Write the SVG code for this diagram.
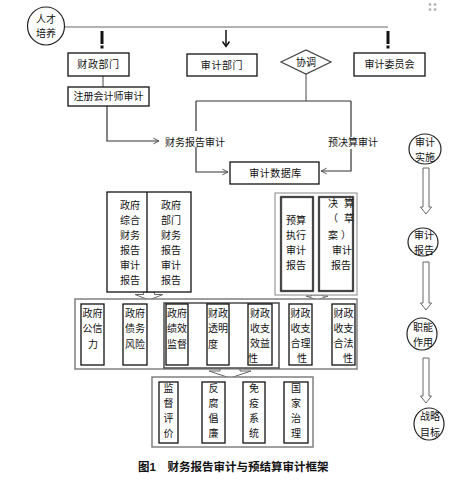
<svg xmlns="http://www.w3.org/2000/svg" width="455" height="494" viewBox="0 0 455 494">
<style>
text{font-family:"Liberation Sans","Noto Sans CJK SC",sans-serif;font-size:10px;fill:#111;text-anchor:middle;dominant-baseline:central}
.box{fill:#fff;stroke:#111;stroke-width:1.3}
.gbox{fill:#fff;stroke:#808080;stroke-width:1.5}
.conn{fill:none;stroke:#666;stroke-width:1.2}
.dark{fill:none;stroke:#333;stroke-width:1.2}
.harrow{fill:#fff;stroke:#666;stroke-width:1}
.circ{fill:#fff;stroke:#222;stroke-width:1.2}
.cap{font-size:11.5px;font-weight:bold;text-anchor:start}
</style>
<defs>
<marker id="chev" viewBox="0 0 10 10" refX="9" refY="5" markerWidth="7" markerHeight="9" markerUnits="userSpaceOnUse" orient="auto">
<path d="M1,1 L9,5 L1,9" fill="none" stroke="#555" stroke-width="1.4"/>
</marker>
</defs>
<rect width="455" height="494" fill="#fff"/>
<g id="handle" fill="#aaa">
<circle cx="430" cy="4.5" r="1.3"/><circle cx="435" cy="4.5" r="1.3"/>
<circle cx="430" cy="9.5" r="1.3"/><circle cx="435" cy="9.5" r="1.3"/>
</g>
<g id="connectors">
<line class="conn" x1="65" y1="27" x2="388" y2="27"/>
<rect x="100.5" y="31" width="3" height="13" fill="#111"/>
<rect x="100.5" y="45.5" width="3" height="3" fill="#111"/>
<rect x="386.5" y="31" width="3" height="13" fill="#111"/>
<rect x="386.5" y="45.5" width="3" height="3" fill="#111"/>
<line x1="226" y1="30" x2="226" y2="46" stroke="#111" stroke-width="1.5"/>
<path d="M222.5,41.5 L226,46.5 L229.5,41.5" fill="none" stroke="#111" stroke-width="1.5"/>
<line class="conn" x1="103" y1="76" x2="103" y2="87"/>
<path class="dark" d="M107,106 V141 H159" marker-end="url(#chev)"/>
<line class="conn" x1="306" y1="74" x2="306" y2="101"/>
<line class="dark" x1="196" y1="101" x2="351" y2="101"/>
<path class="dark" d="M196,101 V131"/>
<path class="dark" d="M196,147 V172 H228" marker-end="url(#chev)"/>
<path class="dark" d="M351,101 V137"/>
<path class="dark" d="M351,149 V171 H321" marker-end="url(#chev)"/>
<polygon class="harrow" points="423,168 429,168 429,207 431.5,207 426,214 420.5,207 423,207"/>
<polygon class="harrow" points="423,262 429,262 429,303 431.5,303 426,310 420.5,303 423,303"/>
<polygon class="harrow" points="423,358 429,358 429,396 431.5,396 426,403 420.5,396 423,396"/>
<polygon class="harrow" points="143.5,292 154.5,292 154.5,294.5 163,294.5 149,300 135,294.5 143.5,294.5"/>
<polygon class="harrow" points="311.5,295 322.5,295 322.5,296 328,296 317,300 306,296 311.5,296"/>
</g>
<g id="n-rencai">
<ellipse class="circ" cx="46" cy="26" rx="18.5" ry="19"/>
<text x="46" y="19">人才</text>
<text x="46" y="33">培养</text>
</g>
<g id="n-caizheng">
<rect class="box" x="68" y="53" width="61" height="23"/>
<text x="98.5" y="64.5" style="letter-spacing:0.6px">财政部门</text>
</g>
<g id="n-shenjibumen">
<rect class="box" x="187" y="54" width="70" height="22"/>
<text x="222" y="65" style="letter-spacing:0.6px">审计部门</text>
</g>
<g id="n-xietiao">
<polygon points="281,62 306,50 331,62 306,74" fill="#fff" stroke="#444" stroke-width="1.2"/>
<text x="306" y="62">协调</text>
</g>
<g id="n-weiyuanhui">
<rect class="box" x="354" y="53" width="71" height="23"/>
<text x="389.5" y="64.5">审计委员会</text>
</g>
<g id="n-zhuce">
<rect class="box" x="68" y="87" width="81" height="19"/>
<text x="108.5" y="96.5">注册会计师审计</text>
</g>
<g id="l-caiwu">
<text x="195" y="142">财务报告审计</text>
</g>
<g id="l-yujuesuan">
<text x="353" y="142">预决算审计</text>
</g>
<g id="n-shujuku">
<rect class="box" x="230" y="162" width="89" height="22"/>
<text x="275.5" y="173" style="letter-spacing:0.5px">审计数据库</text>
</g>
<g id="n-zhengfu-baogao">
<rect class="box" x="107" y="192" width="84" height="100"/>
<line x1="147" y1="192" x2="147" y2="292" stroke="#111" stroke-width="1.3"/>
<text x="130" y="205">政府</text><text x="130" y="220">综合</text><text x="130" y="235">财务</text>
<text x="130" y="250">报告</text><text x="130" y="265">审计</text><text x="130" y="280">报告</text>
<text x="171" y="205">政府</text><text x="171" y="220">部门</text><text x="171" y="235">财务</text>
<text x="171" y="250">报告</text><text x="171" y="265">审计</text><text x="171" y="280">报告</text>
</g>
<g id="n-yusuan-baogao">
<rect x="275" y="193" width="82" height="102" fill="#fff" stroke="#888" stroke-width="1"/>
<rect x="281" y="197" width="32" height="94" fill="none" stroke="#999" stroke-width="2.5"/>
<rect x="281" y="197" width="32" height="94" fill="none" stroke="#111" stroke-width="1.2"/>
<rect x="319" y="197" width="34" height="94" fill="none" stroke="#999" stroke-width="2.5"/>
<rect x="319" y="197" width="34" height="94" fill="none" stroke="#111" stroke-width="1.2"/>
<text x="296" y="220">预算</text><text x="296" y="235">执行</text>
<text x="296" y="250">审计</text><text x="296" y="265">报告</text>
<text x="333" y="203">决</text><text x="349" y="203">算</text>
<text x="333" y="218">（</text><text x="349" y="218">草</text>
<text x="333" y="235">案</text><text x="346" y="235">）</text>
<text x="342" y="250">审计</text><text x="341" y="265">报告</text>
</g>
<g id="n-zhineng-group">
<rect class="gbox" x="75" y="299" width="282" height="70"/>
<rect x="164" y="303" width="115" height="65" fill="none" stroke="#555" stroke-width="1.6"/>
<rect class="box" x="81" y="304" width="23" height="61"/>
<text x="92.5" y="313">政府</text><text x="92.5" y="328">公信</text><text x="93" y="344">力</text>
<rect class="box" x="123" y="304" width="24" height="61"/>
<text x="135" y="313">政府</text><text x="135" y="328">债务</text><text x="135" y="344">风险</text>
<rect class="box" x="166" y="304" width="22" height="61"/>
<text x="177" y="313">政府</text><text x="177" y="328">绩效</text><text x="177" y="344">监督</text>
<rect class="box" x="207" y="304" width="22" height="61"/>
<text x="218" y="313">财政</text><text x="218" y="328">透明</text><text x="213" y="344">度</text>
<rect class="box" x="248" y="304" width="24" height="61"/>
<text x="260" y="313">财政</text><text x="260" y="328">收支</text><text x="260" y="343">效益</text><text x="253" y="358">性</text>
<rect class="box" x="289" y="304" width="23" height="61"/>
<text x="300.5" y="313">财政</text><text x="300.5" y="328">收支</text><text x="300.5" y="343">合理</text><text x="302" y="358">性</text>
<rect class="box" x="332" y="304" width="23" height="61"/>
<text x="343.5" y="313">财政</text><text x="343.5" y="328">收支</text><text x="343.5" y="343">合法</text><text x="348" y="358">性</text>
</g>
<g id="connector-block">
<polygon class="harrow" points="220,369 240,369 240,371 251,371 230,378 209,371 220,371"/>
</g>
<g id="n-mubiao-group">
<rect class="gbox" x="152" y="377" width="161" height="70"/>
<rect class="box" x="159" y="382" width="19" height="61"/>
<text x="168.5" y="388">监</text><text x="168.5" y="403">督</text><text x="168.5" y="418">评</text><text x="168.5" y="433">价</text>
<rect class="box" x="202" y="382" width="23" height="61"/>
<text x="213.5" y="388">反</text><text x="213.5" y="403">腐</text><text x="213.5" y="418">倡</text><text x="213.5" y="433">廉</text>
<rect class="box" x="243" y="382" width="22" height="61"/>
<text x="254" y="388">免</text><text x="254" y="403">疫</text><text x="254" y="418">系</text><text x="254" y="433">统</text>
<rect class="box" x="284" y="382" width="24" height="61"/>
<text x="296" y="388">国</text><text x="296" y="403">家</text><text x="296" y="418">治</text><text x="296" y="433">理</text>
</g>
<g id="n-shishi">
<ellipse class="circ" cx="425" cy="149" rx="16" ry="15"/>
<text x="425" y="142">审计</text><text x="425" y="157">实施</text>
</g>
<g id="n-baogao">
<ellipse class="circ" cx="423" cy="242" rx="15" ry="14"/>
<text x="424" y="235">审计</text><text x="424" y="250">报告</text>
</g>
<g id="n-zuoyong">
<ellipse class="circ" cx="422" cy="334" rx="15" ry="16"/>
<text x="423" y="327">职能</text><text x="423" y="342">作用</text>
</g>
<g id="n-mubiao">
<ellipse class="circ" cx="429" cy="424" rx="15" ry="16"/>
<text x="430" y="416">战略</text><text x="430" y="432">目标</text>
</g>
<g id="caption">
<text class="cap" x="138" y="467">图1　财务报告审计与预结算审计框架</text>
</g>
</svg>
